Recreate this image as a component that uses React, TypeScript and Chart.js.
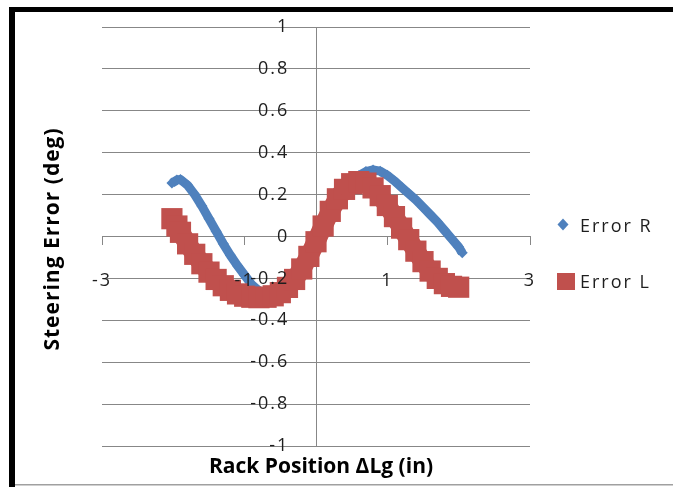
import { useEffect, useRef } from "react";
import { Chart, registerables } from "chart.js";

Chart.register(...registerables);

// Series names and axis titles
const SERIES_R = "Error R";
const SERIES_L = "Error L";
const X_TITLE = "Rack Position ΔLg (in)";
const Y_TITLE = "Steering Error (deg)";

// Error R: rack position (in) and steering error (deg)
const rackPosR = [
  -2.02, -1.95, -1.9, -1.8, -1.7, -1.6, -1.5, -1.4, -1.3, -1.2, -1.1, -1.0,
  -0.9, -0.8, -0.7, -0.6, -0.5, -0.4, -0.3, -0.2, -0.1, 0.0, 0.1, 0.2, 0.3,
  0.4, 0.5, 0.6, 0.7, 0.8, 0.9, 1.0, 1.1, 1.2, 1.3, 1.4, 1.5, 1.6, 1.7, 1.8,
  1.9, 2.0, 2.05,
];
const errorR = [
  0.255, 0.27, 0.272, 0.245, 0.2, 0.145, 0.085, 0.025, -0.035, -0.09, -0.14,
  -0.185, -0.23, -0.26, -0.28, -0.29, -0.285, -0.265, -0.23, -0.18, -0.12,
  -0.05, 0.02, 0.09, 0.155, 0.21, 0.255, 0.29, 0.31, 0.318, 0.312, 0.292,
  0.265, 0.235, 0.205, 0.175, 0.14, 0.105, 0.07, 0.03, -0.01, -0.05, -0.078,
];

// Error L: rack position (in) and steering error (deg)
const rackPosL = [
  -2.02, -1.95, -1.9, -1.8, -1.7, -1.6, -1.5, -1.4, -1.3, -1.2, -1.1, -1.0,
  -0.9, -0.8, -0.7, -0.6, -0.5, -0.4, -0.3, -0.2, -0.1, 0.0, 0.1, 0.2, 0.3,
  0.4, 0.5, 0.6, 0.7, 0.8, 0.9, 1.0, 1.1, 1.2, 1.3, 1.4, 1.5, 1.6, 1.7, 1.8,
  1.9, 2.0,
];
const errorL = [
  0.085, 0.05, 0.02, -0.035, -0.085, -0.13, -0.17, -0.205, -0.235, -0.257,
  -0.274, -0.285, -0.29, -0.292, -0.29, -0.283, -0.268, -0.243, -0.205,
  -0.155, -0.095, -0.025, 0.05, 0.12, 0.18, 0.225, 0.252, 0.262, 0.255, 0.232,
  0.195, 0.148, 0.095, 0.04, -0.015, -0.07, -0.12, -0.165, -0.2, -0.225,
  -0.238, -0.242,
];

// Tick values
const xTicks = [-3, -1, 1, 3];
const yTicks = [-1, -0.8, -0.6, -0.4, -0.2, 0, 0.2, 0.4, 0.6, 0.8, 1];

const BLUE = "#4F81BD";
const RED = "#C0504D";
const GRID = "#878787";
const TEXT = "#1e1e1e";
const FONT = "'Open Sans', 'DejaVu Sans', sans-serif";

const fmt = (v: number | string) => String(Math.round(Number(v) * 10) / 10);
// vertical-axis labels sit a little to the left of the crossing axis
const fmtY = (v: number | string) => fmt(v) + "    ";

// Frame, axis titles and legend drawn around the plot
const decorPlugin = {
  id: "decor",
  beforeDraw(chart: Chart) {
    const { ctx, width, height } = chart;
    ctx.save();
    ctx.fillStyle = "#ffffff";
    ctx.fillRect(0, 0, width, height);
    ctx.fillStyle = "#000000";
    ctx.fillRect(9, 7, width - 9, 5);
    ctx.fillRect(9, 7, 6, height - 7);
    ctx.fillStyle = "#a0a0a0";
    ctx.fillRect(15, 484, width - 15, 1.5);
    ctx.restore();
    (ctx as any).letterSpacing = "2px";
  },
  afterDraw(chart: Chart) {
    const { ctx } = chart;
    ctx.save();
    (ctx as any).letterSpacing = "0px";
    ctx.fillStyle = "#000000";
    ctx.font = `bold 21px ${FONT}`;
    ctx.textAlign = "center";
    ctx.textBaseline = "alphabetic";
    ctx.fillText(X_TITLE, 321, 473);

    ctx.save();
    (ctx as any).letterSpacing = "1px";
    ctx.translate(59, 239);
    ctx.rotate(-Math.PI / 2);
    ctx.fillText(Y_TITLE, 0, 0);
    ctx.restore();

    // legend
    ctx.fillStyle = BLUE;
    ctx.beginPath();
    ctx.moveTo(563, 218.5);
    ctx.lineTo(568.5, 224.5);
    ctx.lineTo(563, 230.5);
    ctx.lineTo(557.5, 224.5);
    ctx.closePath();
    ctx.fill();
    ctx.fillStyle = RED;
    ctx.fillRect(557, 273, 18, 17);

    ctx.fillStyle = TEXT;
    ctx.font = `18px ${FONT}`;
    ctx.textAlign = "left";
    (ctx as any).letterSpacing = "2px";
    ctx.fillText(SERIES_R, 580, 232);
    ctx.fillText(SERIES_L, 580, 288);
    ctx.restore();
  },
};

export default function App() {
  const canvasRef = useRef<HTMLCanvasElement>(null);

  useEffect(() => {
    const canvas = canvasRef.current;
    if (!canvas) return;
    const tickFont = { family: FONT, size: 18 };
    const chart = new Chart(canvas, {
      type: "scatter",
      data: {
        datasets: [
          {
            label: SERIES_L,
            data: rackPosL.map((x, i) => ({ x, y: errorL[i] })),
            pointStyle: "rect",
            pointRadius: 15,
            pointBorderWidth: 0,
            backgroundColor: RED,
            borderColor: RED,
            borderWidth: 19,
            borderJoinStyle: "round",
            showLine: true,
            order: 0,
          },
          {
            label: SERIES_R,
            data: rackPosR.map((x, i) => ({ x, y: errorR[i] })),
            pointStyle: "rectRot",
            pointRadius: 5.5,
            pointBorderWidth: 0,
            backgroundColor: BLUE,
            borderColor: BLUE,
            borderWidth: 9,
            borderJoinStyle: "round",
            showLine: true,
            order: 1,
          },
        ],
      },
      options: {
        responsive: false,
        animation: false,
        events: [],
        layout: { padding: { left: 102, right: 143, top: 27, bottom: 41 } },
        plugins: {
          legend: { display: false },
          tooltip: { enabled: false },
        },
        scales: {
          x: {
            type: "linear",
            position: { y: 0 },
            min: -3,
            max: 3,
            afterBuildTicks: (s: any) => {
              s.ticks = xTicks.map((v) => ({ value: v }));
            },
            grid: {
              drawOnChartArea: false,
              drawTicks: true,
              tickLength: 8,
              color: GRID,
              lineWidth: 1,
            },
            border: { display: true, color: GRID, width: 1 },
            ticks: {
              z: 1,
              padding: 26,
              color: TEXT,
              font: tickFont,
              maxRotation: 0,
              autoSkip: false,
              callback: fmt,
            },
          },
          y: {
            type: "linear",
            position: { x: 0 },
            min: -1,
            max: 1,
            afterBuildTicks: (s: any) => {
              s.ticks = yTicks.map((v) => ({ value: v }));
            },
            grid: { color: GRID, lineWidth: 1, drawTicks: false, tickLength: 0 },
            border: { display: true, color: GRID, width: 1 },
            ticks: {
              z: 1,
              padding: 0,
              color: TEXT,
              font: tickFont,
              autoSkip: false,
              callback: fmtY,
            },
          },
        },
      },
      plugins: [decorPlugin],
    } as any);
    return () => chart.destroy();
  }, []);

  return (
    <div
      style={{
        position: "fixed",
        left: 0,
        top: 0,
        width: 673,
        height: 487,
        background: "#ffffff",
      }}
    >
      <canvas ref={canvasRef} width={673} height={487} style={{ display: "block" }} />
    </div>
  );
}
